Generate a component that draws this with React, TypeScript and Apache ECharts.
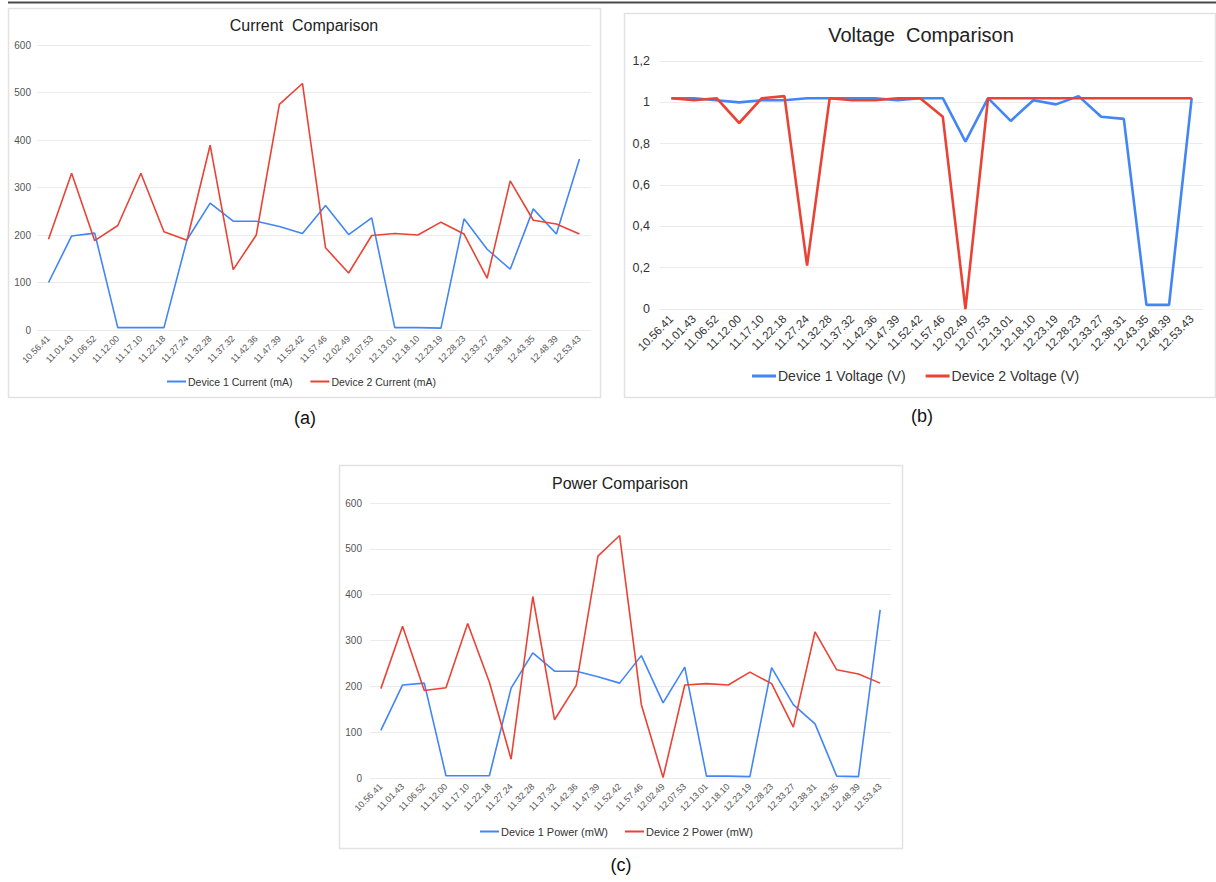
import React, { useEffect, useRef } from "react";
import * as echarts from "echarts";

const categories = [
  "10.56.41", "11.01.43", "11.06.52", "11.12.00", "11.17.10", "11.22.18",
  "11.27.24", "11.32.28", "11.37.32", "11.42.36", "11.47.39", "11.52.42",
  "11.57.46", "12.02.49", "12.07.53", "12.13.01", "12.18.10", "12.23.19",
  "12.28.23", "12.33.27", "12.38.31", "12.43.35", "12.48.39", "12.53.43",
];

const current1 = [100, 198, 204, 5, 5, 5, 190, 267, 229, 229, 218, 203, 262, 201, 236, 5, 5, 4, 234, 170, 128, 255, 202, 360];
const current2 = [191, 330, 188, 220, 330, 207, 189, 389, 127, 200, 475, 519, 173, 120, 199, 203, 200, 227, 202, 109, 314, 231, 223, 202];

const voltage1 = [1.02, 1.02, 1.01, 1.0, 1.01, 1.01, 1.02, 1.02, 1.02, 1.02, 1.01, 1.02, 1.02, 0.81, 1.02, 0.91, 1.01, 0.99, 1.03, 0.93, 0.92, 0.02, 0.02, 1.02];
const voltage2 = [1.02, 1.01, 1.02, 0.9, 1.02, 1.03, 0.21, 1.02, 1.01, 1.01, 1.02, 1.02, 0.93, 0.0, 1.02, 1.02, 1.02, 1.02, 1.02, 1.02, 1.02, 1.02, 1.02, 1.02];

const power1 = [104, 203, 207, 5, 5, 5, 196, 273, 233, 233, 221, 207, 267, 164, 242, 4, 4, 3, 241, 160, 118, 4, 3, 367];
const power2 = [195, 331, 191, 197, 337, 209, 41, 396, 127, 202, 484, 529, 160, 1, 203, 206, 203, 231, 206, 111, 319, 236, 227, 207];

const titles = ["Current  Comparison", "Voltage  Comparison", "Power Comparison"];
const panelLabels = ["(a)", "(b)", "(c)"];
const seriesNames = [
  ["Device 1 Current (mA)", "Device 2 Current (mA)"],
  ["Device 1 Voltage (V)", "Device 2 Voltage (V)"],
  ["Device 1 Power (mW)", "Device 2 Power (mW)"],
];

const BLUE = "#4285F4";
const RED = "#EA4335";
const FONT = "'Liberation Sans', Arial, Helvetica, sans-serif";

export default function App() {
  const ref = useRef<HTMLDivElement>(null);

  useEffect(() => {
    if (!ref.current) return;
    const chart = echarts.init(ref.current, undefined, { renderer: "svg" });

    const grids = [
      { left: 37, top: 45, width: 554, height: 285 },
      { left: 660, top: 61, width: 543, height: 248 },
      { left: 370, top: 503, width: 521, height: 275 },
    ];

    const xAxisFont = [9, 11.5, 9];
    const yAxisFont = [10, 12.5, 10];
    const labelColor = ["#555", "#333", "#555"];

    const xAxes = grids.map((_, i) => ({
      type: "category",
      gridIndex: i,
      data: categories,
      boundaryGap: true,
      axisLine: { show: false },
      axisTick: { show: false },
      axisLabel: {
        interval: 0,
        rotate: 45,
        fontSize: xAxisFont[i],
        color: labelColor[i],
        fontFamily: FONT,
        margin: i === 1 ? 8 : 7,
      },
      splitLine: { show: false },
    }));

    const yAxes = [
      {
        type: "value", gridIndex: 0, min: 0, max: 600, interval: 100,
        axisLine: { show: false }, axisTick: { show: false },
        axisLabel: { fontSize: yAxisFont[0], color: labelColor[0], fontFamily: FONT, margin: 6 },
        splitLine: { lineStyle: { color: "#ebebeb", width: 1 } },
      },
      {
        type: "value", gridIndex: 1, min: 0, max: 1.2, interval: 0.2,
        axisLine: { show: false }, axisTick: { show: false },
        axisLabel: {
          fontSize: yAxisFont[1], color: labelColor[1], fontFamily: FONT, margin: 10,
          formatter: (v: number) => String(Math.round(v * 10) / 10).replace(".", ","),
        },
        splitLine: { lineStyle: { color: "#ebebeb", width: 1 } },
      },
      {
        type: "value", gridIndex: 2, min: 0, max: 600, interval: 100,
        axisLine: { show: false }, axisTick: { show: false },
        axisLabel: { fontSize: yAxisFont[2], color: labelColor[2], fontFamily: FONT, margin: 8 },
        splitLine: { lineStyle: { color: "#ebebeb", width: 1 } },
      },
    ];

    const dataSets = [
      [current1, current2],
      [voltage1, voltage2],
      [power1, power2],
    ];
    const lineWidths = [1.6, 2.6, 1.6];

    const series: any[] = [];
    dataSets.forEach((pair, i) => {
      pair.forEach((d, j) => {
        series.push({
          type: "line",
          name: seriesNames[i][j],
          xAxisIndex: i,
          yAxisIndex: i,
          data: d,
          symbol: "none",
          showSymbol: false,
          color: j === 0 ? BLUE : RED,
          lineStyle: { width: lineWidths[i], color: j === 0 ? BLUE : RED },
          z: j === 0 ? 3 : 4,
        });
      });
    });

    const legends = [
      { left: 167, top: 376, itemWidth: 19, itemHeight: 2, itemGap: 18, fontSize: 10.5 },
      { left: 752, top: 369, itemWidth: 24, itemHeight: 3, itemGap: 20, fontSize: 14 },
      { left: 480, top: 826, itemWidth: 19, itemHeight: 2, itemGap: 17, fontSize: 11 },
    ].map((l, i) => ({
      left: l.left,
      top: l.top,
      orient: "horizontal",
      padding: 0,
      itemWidth: l.itemWidth,
      itemHeight: l.itemHeight,
      itemGap: l.itemGap,
      icon: "rect",
      data: seriesNames[i],
      textStyle: { fontSize: l.fontSize, color: "#333", fontFamily: FONT, padding: [0, 0, 0, -3] },
    }));

    const titleSpecs = [
      { x: 304, y: 25, size: 16 },
      { x: 921, y: 35, size: 20 },
      { x: 620, y: 483, size: 16 },
    ];
    const panelSpecs = [
      { x: 305, y: 418 },
      { x: 922, y: 416 },
      { x: 621, y: 865 },
    ];

    const graphic: any[] = [
      {
        type: "line",
        shape: { x1: 8, y1: 2.5, x2: 1216, y2: 2.5 },
        style: { stroke: "#4a4a4a", lineWidth: 2 },
        z: -10,
      },
      {
        type: "rect",
        shape: { x: 8.5, y: 8.5, width: 592, height: 389 },
        style: { fill: "none", stroke: "#e2e2e2", lineWidth: 1.5 },
        z: -10,
      },
      {
        type: "rect",
        shape: { x: 624.5, y: 13.5, width: 591, height: 384 },
        style: { fill: "none", stroke: "#e2e2e2", lineWidth: 1.5 },
        z: -10,
      },
      {
        type: "rect",
        shape: { x: 339.5, y: 465.5, width: 563, height: 383 },
        style: { fill: "none", stroke: "#e2e2e2", lineWidth: 1.5 },
        z: -10,
      },
    ];
    titleSpecs.forEach((t, i) => {
      graphic.push({
        type: "text",
        x: t.x,
        y: t.y,
        style: {
          text: titles[i],
          fill: "#222",
          font: `${t.size}px ${FONT}`,
          textAlign: "center",
          textVerticalAlign: "middle",
        },
      });
    });
    panelSpecs.forEach((p, i) => {
      graphic.push({
        type: "text",
        x: p.x,
        y: p.y,
        style: {
          text: panelLabels[i],
          fill: "#111",
          font: `18px ${FONT}`,
          textAlign: "center",
          textVerticalAlign: "middle",
        },
      });
    });

    chart.setOption({
      animation: false,
      backgroundColor: "#ffffff",
      textStyle: { fontFamily: FONT },
      grid: grids.map((g) => ({ ...g, containLabel: false })),
      xAxis: xAxes,
      yAxis: yAxes,
      legend: legends,
      series,
      graphic,
    });

    return () => {
      chart.dispose();
    };
  }, []);

  return (
    <div
      ref={ref}
      style={{ position: "absolute", left: 0, top: 0, width: 1216, height: 882, background: "#fff" }}
    />
  );
}
